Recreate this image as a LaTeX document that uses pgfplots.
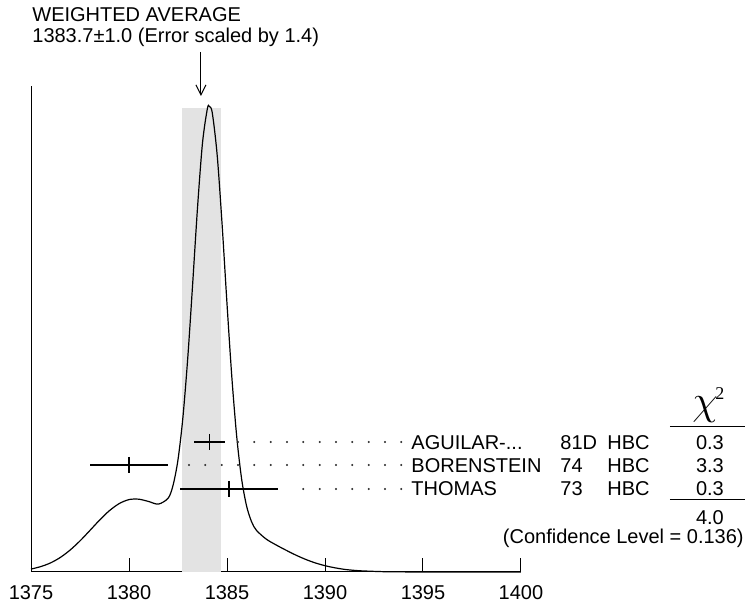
\documentclass[border=0pt]{standalone}
\usepackage{fontspec}
\setmainfont{Liberation Sans}
\newfontfamily\greekfont{Liberation Serif}
\usepackage{pgfplots}
\pgfplotsset{compat=1.18}
\usetikzlibrary{arrows.meta}

\begin{document}
\fontsize{10}{12}\selectfont
\begin{tikzpicture}
\begin{axis}[
    x=9.8pt, y=0.5pt,
    xmin=1375, xmax=1400, ymin=0, ymax=486,
    axis x line=bottom, axis y line=left,
    axis line style={-, line width=0.5pt},
    xtick={1375,1380,1385,1390,1395,1400}, ytick=\empty,
    tick align=inside, major tick length=7pt,
    tick style={line width=0.5pt, black},
    /pgf/number format/assume math mode=true,
    xticklabel style={/pgf/number format/1000 sep={}, yshift=-3.3pt},
    clip=false]

% weighted average band
\addplot[fill=black!11, draw=none] coordinates {
    (1382.7,0) (1384.7,0) (1384.7,464) (1382.7,464)} -- cycle;

% ideogram
\addplot[black, line width=0.6pt, smooth] coordinates {
    (1375,2.9) (1375.5,5.4) (1376,9.1) (1376.5,14.6) (1377,22.0)
    (1377.5,31.1) (1378,41.4) (1378.5,51.9) (1379,61.3) (1379.5,68.4)
    (1380,72.4) (1380.5,72.8) (1381,70.5) (1381.5,67.9) (1382,73.9)
    (1382.25,86.9) (1382.5,112.3) (1382.75,154.5) (1383,214.6)
    (1383.25,288.7) (1383.5,365.5) (1383.75,429.1) (1384,463.5)
    (1384.1,465.5) (1384.25,459.0) (1384.5,416.6) (1384.75,347.5)
    (1385,268.2) (1385.25,194.0) (1385.5,134.5) (1385.75,92.5)
    (1386,65.9) (1386.25,50.4) (1386.5,41.7) (1387,32.9) (1387.5,27.1)
    (1388,21.9) (1388.5,17.0) (1389,12.7) (1389.5,9.1) (1390,6.3)
    (1390.5,4.2) (1391,2.6) (1391.5,1.6) (1392,1.0) (1393,0.3)
    (1394,0.1) (1395,0) (1400,0)};

% dotted leaders
\addplot[only marks, mark=*, mark size=0.3pt, black!80] coordinates {
    (1385.56,130) (1386.39,130) (1387.23,130) (1388.06,130) (1388.89,130)
    (1389.73,130) (1390.56,130) (1391.39,130) (1392.23,130) (1393.06,130)
    (1393.89,130)};
\addplot[only marks, mark=*, mark size=0.3pt, black!80] coordinates {
    (1383.06,107) (1383.89,107) (1384.73,107) (1385.56,107) (1386.39,107)
    (1387.23,107) (1388.06,107) (1388.89,107) (1389.73,107) (1390.56,107)
    (1391.39,107) (1392.23,107) (1393.06,107) (1393.89,107)};
\addplot[only marks, mark=*, mark size=0.3pt, black!80] coordinates {
    (1388.89,83) (1389.73,83) (1390.56,83) (1391.39,83) (1392.23,83)
    (1393.06,83) (1393.89,83)};

% measurements
\addplot[only marks, black, mark=|, mark size=4pt,
    mark options={line width=0.6pt},
    error bars/.cd, x dir=both, x explicit, error mark=none,
    error bar style={line width=0.6pt}] coordinates {
    (1384.1,130) +- (0.8,0)
    (1380.0,107) +- (2.0,0)
    (1385.1,83) +- (2.5,0)};

% texts
\node[anchor=base west, inner sep=0] at (axis cs:1375.05,550) {WEIGHTED AVERAGE};
\node[anchor=base west, inner sep=0] at (axis cs:1375.05,529) {1383.7±1.0 (Error scaled by 1.4)};
\draw[line width=0.5pt, -{Straight Barb[length=5pt,width=5pt]}]
    (axis cs:1383.67,520) -- (axis cs:1383.67,476);

\node[anchor=base west, inner sep=0] at (axis cs:1394.39,122) {AGUILAR-...};
\node[anchor=base west, inner sep=0] at (axis cs:1394.39,99) {BORENSTEIN};
\node[anchor=base west, inner sep=0] at (axis cs:1394.39,76) {THOMAS};
\node[anchor=base west, inner sep=0] at (axis cs:1401.99,122) {81D};
\node[anchor=base west, inner sep=0] at (axis cs:1401.99,99) {74};
\node[anchor=base west, inner sep=0] at (axis cs:1401.99,76) {73};
\node[anchor=base west, inner sep=0] at (axis cs:1404.39,122) {HBC};
\node[anchor=base west, inner sep=0] at (axis cs:1404.39,99) {HBC};
\node[anchor=base west, inner sep=0] at (axis cs:1404.39,76) {HBC};
\node[anchor=base, inner sep=0] at (axis cs:1409.64,122) {0.3};
\node[anchor=base, inner sep=0] at (axis cs:1409.64,99) {3.3};
\node[anchor=base, inner sep=0] at (axis cs:1409.64,76) {0.3};
\node[anchor=base, inner sep=0] at (axis cs:1409.64,47) {4.0};
\node[anchor=base east, inner sep=0] at (axis cs:1411.38,28) {(Confidence Level = 0.136)};
\draw[line width=0.5pt] (axis cs:1407.60,145) -- (axis cs:1411.43,145);
\draw[line width=0.5pt] (axis cs:1407.60,72) -- (axis cs:1411.43,72);
\node[inner sep=0] at (axis cs:1409.39,162) {\fontsize{20}{20}\selectfont $\chi$};
\node[inner sep=0] at (axis cs:1410.15,178) {\greekfont\fontsize{9}{9}\selectfont 2};

\coordinate (bl) at (axis cs:1373.418,-33);
\coordinate (tr) at (axis cs:1411.43,572);
\end{axis}
\pgfresetboundingbox
\useasboundingbox (bl) rectangle (tr);
\end{tikzpicture}
\end{document}
